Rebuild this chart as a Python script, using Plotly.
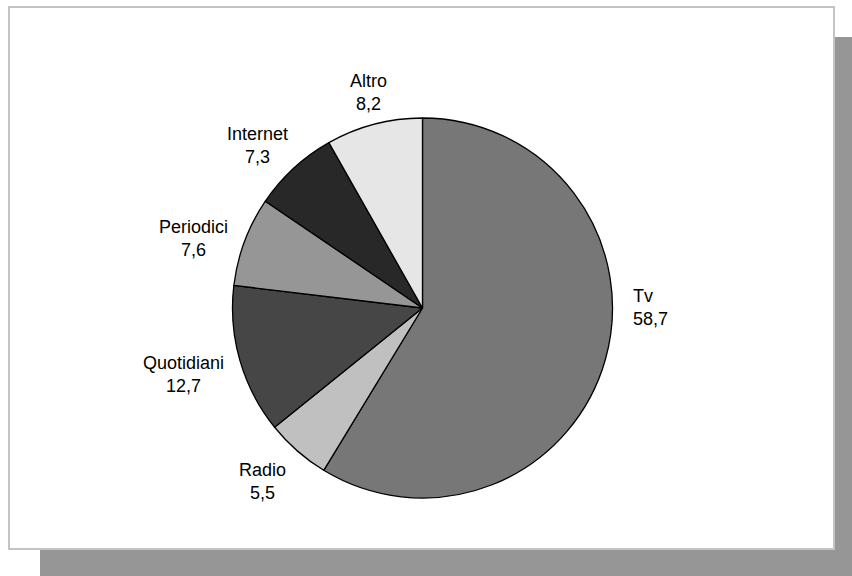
import plotly.graph_objects as go

# ---- data ----
categories = ["Tv", "Radio", "Quotidiani", "Periodici", "Internet", "Altro"]
values = [58.7, 5.5, 12.7, 7.6, 7.3, 8.2]
colors = ["#777777", "#c0c0c0", "#464646", "#969696", "#282828", "#e6e6e6"]

# ---- layout helpers (pixel positions of label blocks) ----
W, H = 852, 576
label_pos = {
    "Tv": (631, 307, "left"),
    "Radio": (262, 481, "center"),
    "Quotidiani": (183, 374, "center"),
    "Periodici": (193, 238, "center"),
    "Internet": (257, 145, "center"),
    "Altro": (368, 92, "center"),
}

def px(x):
    return x / W

def py(y):
    return 1 - y / H

cx, cy, r = 422.5, 308, 190

fig = go.Figure(
    go.Pie(
        labels=categories,
        values=values,
        marker=dict(colors=colors, line=dict(color="#000000", width=1.3)),
        sort=False,
        direction="clockwise",
        rotation=0,
        textinfo="none",
        hoverinfo="skip",
        showlegend=False,
        domain=dict(x=[px(cx - r), px(cx + r)], y=[py(cy + r), py(cy - r)]),
    )
)

annotations = []
for cat, val in zip(categories, values):
    x, y, al = label_pos[cat]
    annotations.append(
        dict(
            text=f"{cat}<br>{val:.1f}".replace(".", ","),
            x=px(x), y=py(y), xref="paper", yref="paper",
            xanchor="left" if al == "left" else "center",
            yanchor="middle",
            align=al,
            showarrow=False,
            font=dict(family="Liberation Sans, Arial, sans-serif", size=18, color="#000000"),
        )
    )

shapes = [
    # shadow
    dict(type="rect", xref="paper", yref="paper", layer="below",
         x0=px(40), x1=px(852), y0=py(576), y1=py(37),
         fillcolor="#969696", line=dict(width=0)),
    # white panel
    dict(type="rect", xref="paper", yref="paper", layer="below",
         x0=px(9), x1=px(834), y0=py(549), y1=py(7),
         fillcolor="#ffffff", line=dict(color="#c4c4c4", width=2)),
]

fig.update_layout(
    width=W, height=H,
    margin=dict(l=0, r=0, t=0, b=0),
    paper_bgcolor="#ffffff",
    plot_bgcolor="#ffffff",
    shapes=shapes,
    annotations=annotations,
)

fig.write_html("out.html")
